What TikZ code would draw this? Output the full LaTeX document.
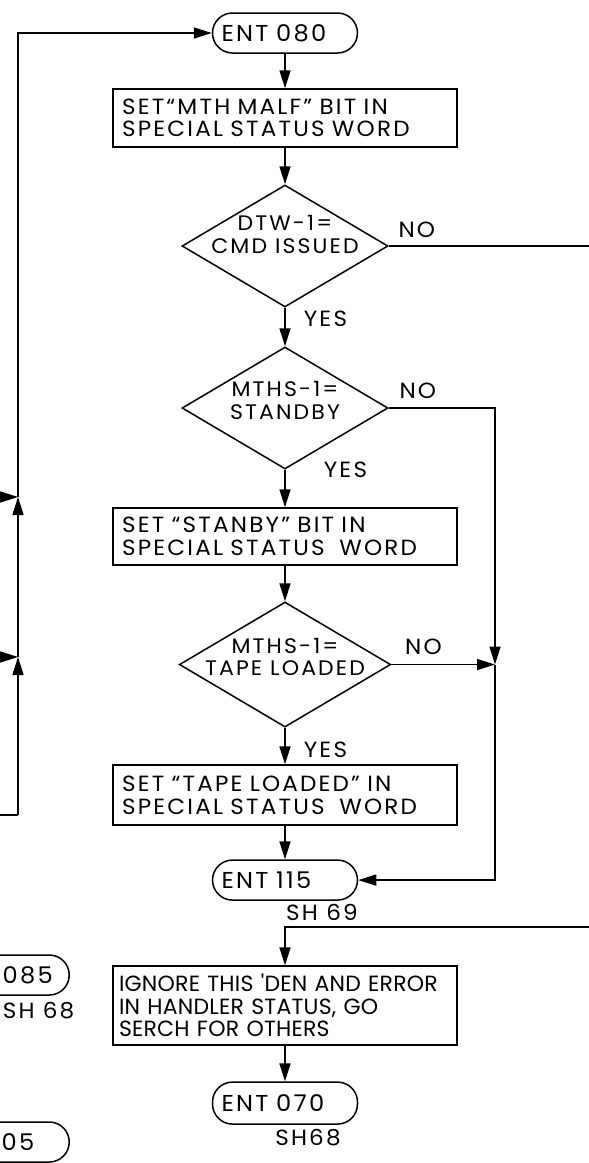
\documentclass[tikz,border=0pt]{standalone}
\usepackage{fontspec}
\setmainfont{Poppins}[FakeStretch=1.05,LetterSpace=10]
\newfontfamily\tightfont{Poppins}[FakeStretch=1.0,LetterSpace=1]
\usetikzlibrary{arrows.meta,positioning,shapes.geometric}

\begin{document}
\begin{tikzpicture}[
    x=1pt, y=-1pt,
    line width=1.5pt,
    font=\fontsize{22}{22.5}\selectfont,
    term/.style={rectangle, draw, rounded corners=20pt, minimum width=145pt, minimum height=40pt, text width=127pt, inner xsep=9pt, align=left, font=\fontsize{23}{24}\selectfont},
    proc/.style={rectangle, draw, minimum width=344pt, text width=326pt, inner xsep=9pt, align=left},
    decide/.style={diamond, draw, aspect=1.69, minimum width=206pt, minimum height=122pt, inner xsep=-12pt, inner ysep=-4pt, text depth=15pt, align=center, font=\fontsize{21}{22.5}\selectfont},
    lbl/.style={inner sep=0pt},
    arrow/.style={-{Triangle[length=18pt,width=11pt]}, line width=1.6pt}
]
    \useasboundingbox (0,0) rectangle (589,1163);
    \clip (0,0) rectangle (589,1163);

    % main column
    \node[term] (ent080) at (285,33) {ENT 080};
    \node[proc, minimum height=58pt, below=34.5pt of ent080] (mthmalf) {SET“MTH MALF” BIT IN\\SPECIAL STATUS WORD};
    \node[decide, text depth=23pt, inner ysep=-8pt, below=36.5pt of mthmalf] (dtw) {DTW-1=\\CMD ISSUED};
    \node[decide, below=38.5pt of dtw] (standby) {MTHS-1=\\STANDBY};
    \node[proc, minimum height=57pt, below=37.5pt of standby] (stanbybox) {SET “STANBY” BIT IN\\SPECIAL STATUS \ WORD};
    \node[decide, below=35.5pt of stanbybox] (tapeld) {MTHS-1=\\TAPE LOADED};
    \node[proc, minimum height=60pt, below=36.5pt of tapeld] (tapebox) {SET “TAPE LOADED” IN\\SPECIAL STATUS \ WORD};
    \node[term, below=33.5pt of tapebox] (ent115) {ENT 115};
    \node[lbl, anchor=base] (sh115) at ([xshift=37pt,yshift=-20pt]ent115.south) {SH 69};
    \node[proc, minimum height=79pt, text width=332pt, inner xsep=6pt, below=64.5pt of ent115, font=\fontsize{22}{22.5}\tightfont] (ignore) {IGNORE THIS 'DEN AND ERROR\\IN HANDLER STATUS, GO\\SERCH FOR OTHERS};
    \node[term, minimum height=42pt, below=35.5pt of ignore] (ent070) {ENT 070};
    \node[lbl, anchor=base] (sh070) at ([xshift=23pt,yshift=-21pt]ent070.south) {SH68};

    % cut off at the left edge
    \node[term, anchor=east, align=right, text width=112pt] (ent085) at (70,975) {085};
    \node[lbl, anchor=base west] (sh085) at ([xshift=-68pt,yshift=-23pt]ent085.south east) {SH 68};
    \node[term, anchor=east, align=right, text width=75pt] (entlow) at (70,1142) {05};

    % loose ends
    \coordinate (lftstub) at (0,815);
    \coordinate (lftbot) at (18,815);
    \coordinate (lftin1) at (0,497);
    \coordinate (lftin2) at (0,657);
    \coordinate (lftjoin1) at (18,497);
    \coordinate (lftjoin2) at (18,657);
    \coordinate (noexit) at (589,0);
    \coordinate (rtbus) at (495,0);
    \coordinate (rtin) at (589,927);

    \draw[arrow] (ent080) -- (mthmalf);
    \draw[arrow] (mthmalf) -- (dtw);
    \draw[arrow] (dtw) -- (standby) node[lbl, pos=0.3, right=18pt] {YES};
    \draw[arrow] (standby) -- (stanbybox) node[lbl, pos=0, right=38pt] {YES};
    \draw[arrow] (stanbybox) -- (tapeld);
    \draw[arrow] (tapeld) -- (tapebox) node[lbl, pos=0.6, right=18pt] {YES};
    \draw[arrow] (tapebox) -- (ent115);
    \draw[arrow] (ignore) -- (ent070);

    \draw (dtw.east) -- (dtw.east -| noexit) node[lbl, pos=0, above right=8pt and 9pt] {NO};
    \draw[arrow] (standby.east) -| (tapeld.east -| rtbus) node[lbl, pos=0, above right=9pt and 10pt] {NO};
    \draw[arrow] (tapeld.east) -- (tapeld.east -| rtbus) node[lbl, pos=0, above right=9pt and 13pt] {NO};
    \draw[arrow] (tapeld.east -| rtbus) |- (ent115.east);
    \draw[arrow] (rtin) -| (ignore.north);

    \draw (lftstub) -- (lftbot);
    \draw[arrow] (lftbot) -- (lftjoin2);
    \draw[arrow] (lftjoin2) -- (lftjoin1);
    \draw[arrow] (lftjoin1) |- (ent080.west);
    \draw[arrow] (lftin1) -- (lftjoin1);
    \draw[arrow] (lftin2) -- (lftjoin2);
\end{tikzpicture}
\end{document}
